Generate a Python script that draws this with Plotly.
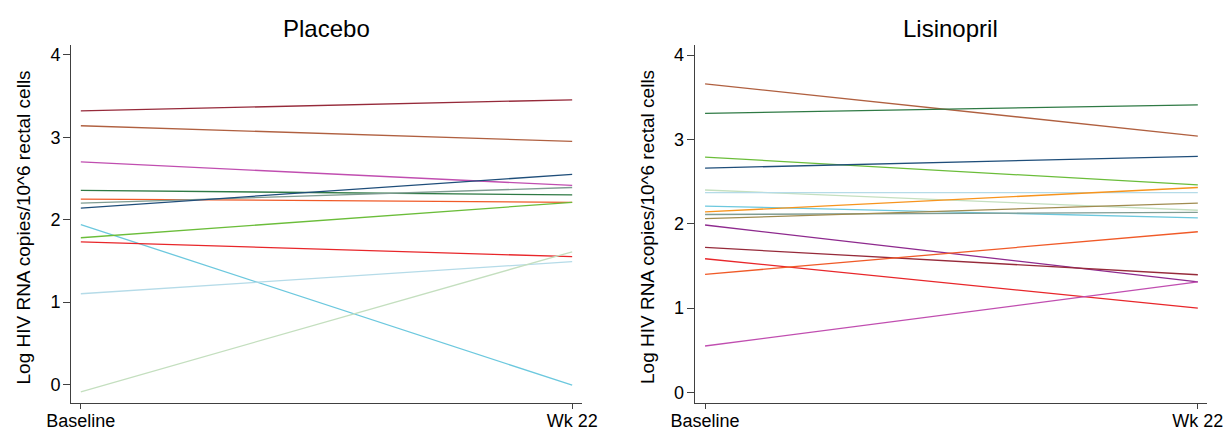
import plotly.graph_objects as go

timepoints = ["Baseline", "Wk 22"]
y_ticks = [0, 1, 2, 3, 4]

# Placebo group: baseline and week-22 values per participant
placebo_baseline = [3.32, 3.14, 2.70, 2.355, 2.25, 2.20, 2.14, 1.94, 1.78, 1.73, 1.10, -0.09]
placebo_wk22 = [3.455, 2.95, 2.415, 2.30, 2.21, 2.39, 2.55, -0.01, 2.21, 1.55, 1.49, 1.61]
placebo_colors = ["#962a3a", "#b06040", "#c04eb0", "#2f7a45", "#f05a28", "#7f9c92",
                  "#1f4e7a", "#6cc8de", "#6bbd3a", "#e8262a", "#b5dbe8", "#c4dfbf"]

# Lisinopril group
lisinopril_baseline = [3.66, 3.31, 2.79, 2.66, 2.40, 2.37, 2.21, 2.14, 2.11, 2.06, 1.985, 1.72, 1.585, 1.40, 0.55]
lisinopril_wk22 = [3.04, 3.41, 2.46, 2.80, 2.16, 2.37, 2.07, 2.43, 2.135, 2.245, 1.31, 1.395, 1.00, 1.905, 1.31]
lisinopril_colors = ["#b06040", "#2f7a45", "#6bbd3a", "#1f4e7a", "#c4dfbf", "#b5dbe8",
                     "#6cc8de", "#f7941d", "#7f9c92", "#a08c50", "#8e2a8e", "#962a3a",
                     "#e8262a", "#f05a28", "#c04eb0"]

fig = go.Figure()

for b, w, c in zip(placebo_baseline, placebo_wk22, placebo_colors):
    fig.add_trace(go.Scatter(x=timepoints, y=[b, w], mode="lines",
                             line=dict(color=c, width=1.3), xaxis="x", yaxis="y",
                             showlegend=False, hoverinfo="skip"))
for b, w, c in zip(lisinopril_baseline, lisinopril_wk22, lisinopril_colors):
    fig.add_trace(go.Scatter(x=timepoints, y=[b, w], mode="lines",
                             line=dict(color=c, width=1.3), xaxis="x2", yaxis="y2",
                             showlegend=False, hoverinfo="skip"))

W, H = 1227, 430
font_family = "Liberation Sans, Arial, Helvetica, sans-serif"
axis_common = dict(showgrid=False, zeroline=False, showline=True, linecolor="#404040",
                   linewidth=1, ticks="outside", tickcolor="#404040",
                   automargin=False,
                   tickfont=dict(size=18, color="#000000", family=font_family), mirror=False)

ydom = [1 - 402.5 / H, 1 - 45 / H]
fig.update_layout(
    width=W, height=H,
    margin=dict(l=0, r=0, t=0, b=0, pad=0),
    paper_bgcolor="white", plot_bgcolor="white",
    font=dict(family=font_family, color="#000000"),
    xaxis=dict(domain=[71 / W, 582 / W], type="category", range=[-0.02, 1.02],
               anchor="y", ticklen=5, ticklabelstandoff=-3, **axis_common),
    yaxis=dict(domain=ydom, range=[-0.22, 4.12], tickvals=y_ticks, anchor="x",
               ticklen=7, ticklabelstandoff=-1, **axis_common),
    xaxis2=dict(domain=[694.7 / W, 1206.7 / W], type="category", range=[-0.021, 1.018],
                anchor="y2", ticklen=5, ticklabelstandoff=-3, **axis_common),
    yaxis2=dict(domain=ydom, range=[-0.12, 4.12], tickvals=y_ticks, anchor="x2",
                ticklen=7, ticklabelstandoff=-1, **axis_common),
    annotations=[
        dict(text="Placebo", x=326.5 / W, y=1 - 29 / H, xref="paper", yref="paper",
             showarrow=False, font=dict(size=24), xanchor="center", yanchor="middle"),
        dict(text="Lisinopril", x=950.7 / W, y=1 - 29 / H, xref="paper", yref="paper",
             showarrow=False, font=dict(size=24), xanchor="center", yanchor="middle"),
        dict(text="Log HIV RNA copies/10^6 rectal cells", x=23 / W, y=1 - 227.5 / H,
             xref="paper", yref="paper", showarrow=False, textangle=-90,
             font=dict(size=19), xanchor="center", yanchor="middle"),
        dict(text="Log HIV RNA copies/10^6 rectal cells", x=647.5 / W, y=1 - 227.5 / H,
             xref="paper", yref="paper", showarrow=False, textangle=-90,
             font=dict(size=19), xanchor="center", yanchor="middle"),
    ],
)

fig.write_html("out.html", config={"displayModeBar": False},
               post_script="document.body.style.margin='0';document.body.style.overflow='hidden';")
